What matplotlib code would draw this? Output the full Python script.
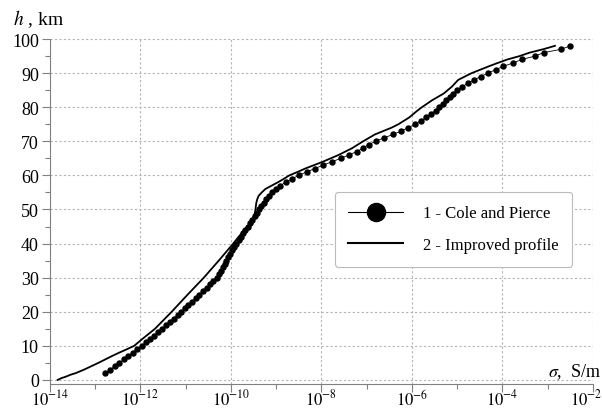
import numpy as np
import matplotlib
matplotlib.use('Agg')
from matplotlib import pyplot as plt
from matplotlib.ticker import FixedLocator, FixedFormatter, MultipleLocator, NullFormatter
from matplotlib.transforms import ScaledTranslation
from matplotlib.lines import Line2D

# Cole and Pierce profile: height (km) and log10 of conductivity (S/m)
cpHeights = [2, 3, 4, 5, 6, 7, 8, 9, 10,
             11, 12, 13, 14, 15, 16, 17, 18, 19, 20,
             21, 22, 23, 24, 25, 26, 27, 28, 29, 30,
             31, 32, 33, 34, 35, 36, 37, 38, 39, 40,
             41, 42, 43, 44, 45, 46, 47, 48, 49, 50,
             51, 52, 53, 54, 55, 56, 57, 58, 59, 60,
             61, 62, 63, 64, 65, 66, 67, 68, 69, 70,
             71, 72, 73, 74, 75, 76, 77, 78, 79, 80,
             81, 82, 83, 84, 85, 86, 87, 88, 89, 90,
             91, 92, 93, 94, 95, 96, 97, 98]
cpLogSigma = [-12.78, -12.67, -12.57, -12.47, -12.37, -12.27, -12.17, -12.07, -11.97,
              -11.88, -11.79, -11.70, -11.61, -11.52, -11.44, -11.35, -11.27, -11.18, -11.10,
              -11.02, -10.94, -10.86, -10.78, -10.70, -10.62, -10.54, -10.47, -10.39, -10.32,
              -10.27, -10.22, -10.18, -10.14, -10.10, -10.06, -10.02, -9.98, -9.93, -9.88,
              -9.83, -9.78, -9.73, -9.68, -9.63, -9.58, -9.53, -9.48, -9.43, -9.38,
              -9.33, -9.28, -9.22, -9.16, -9.09, -9.01, -8.91, -8.79, -8.65, -8.50,
              -8.33, -8.15, -7.96, -7.77, -7.57, -7.39, -7.22, -7.08, -6.96, -6.80,
              -6.62, -6.42, -6.24, -6.08, -5.93, -5.80, -5.69, -5.58, -5.48, -5.40,
              -5.32, -5.25, -5.17, -5.09, -5.00, -4.89, -4.77, -4.63, -4.48, -4.32,
              -4.15, -3.98, -3.76, -3.57, -3.28, -3.09, -2.70, -2.50]

# Improved profile
impHeights = [0, 0.5, 1, 1.5, 2, 3, 4, 5, 6, 7, 8, 9, 10, 12, 15, 20, 25, 30, 35,
              40, 42, 44, 45, 46, 47, 48, 49, 50, 51, 52, 53, 54, 55, 56, 57, 58,
              59, 60, 61, 62, 64, 66, 68, 70, 72, 74, 75, 76, 77, 78, 79, 80, 82,
              84, 86, 88, 90, 92, 93, 94, 95, 96, 97, 98]
impLogSigma = [-13.83, -13.75, -13.64, -13.55, -13.43, -13.25, -13.09, -12.93, -12.78,
               -12.63, -12.47, -12.30, -12.14, -11.96, -11.68, -11.31, -10.96, -10.60,
               -10.27, -9.95, -9.83, -9.70, -9.63, -9.57, -9.53, -9.50, -9.47, -9.46,
               -9.45, -9.44, -9.42, -9.39, -9.32, -9.24, -9.10, -8.96, -8.83, -8.71,
               -8.53, -8.36, -7.97, -7.62, -7.32, -7.08, -6.82, -6.45, -6.30, -6.18,
               -6.06, -5.97, -5.88, -5.78, -5.56, -5.30, -5.12, -4.98, -4.68, -4.30,
               -4.10, -3.89, -3.62, -3.40, -3.10, -2.84]

xTickExponents = [-14, -12, -10, -8, -6, -4, -2]
legendLabels = ['1 - Cole and Pierce', '2 - Improved profile']

plt.rcParams['font.family'] = ['Liberation Serif', 'DejaVu Serif']
plt.rcParams['mathtext.fontset'] = 'stix'

W, H = 602, 410
fig = plt.figure(figsize=(W / 100, H / 100), dpi=100)
ax = fig.add_axes([50 / W, 25 / H, 543 / W, 345 / H])
ax.set_xscale('log')

ax.plot(10 ** np.array(impLogSigma), impHeights, color='black', lw=1.3)
ax.plot(10 ** np.array(cpLogSigma), cpHeights, color='black', lw=0.6,
        marker='o', ms=3.6, mec='black', mfc='black')

ax.set_xlim(1e-14, 1e-2)
ax.set_ylim(-1.2, 100)

# ticks: labelled even decades, unlabelled minor ticks on odd decades
ax.xaxis.set_major_locator(FixedLocator([10.0 ** e for e in xTickExponents]))
ax.xaxis.set_major_formatter(FixedFormatter([r'$10^{%d}$' % e for e in xTickExponents]))
ax.xaxis.set_minor_locator(FixedLocator([10.0 ** (e + 1) for e in xTickExponents[:-1]]))
ax.xaxis.set_minor_formatter(NullFormatter())
ax.yaxis.set_major_locator(MultipleLocator(10))
ax.yaxis.set_minor_locator(MultipleLocator(5))

ax.tick_params(which='major', length=6, width=0.8, color='#808080', labelsize=13, pad=2)
# mathtext labels carry extra descent, pull them up so they fit the canvas
ax.tick_params(axis='x', which='major', labelsize=12, pad=-2.5)
ax.tick_params(which='minor', length=3.5, width=0.8, color='#808080')
for side in ('top', 'right'):
  ax.spines[side].set_visible(False)
for side in ('left', 'bottom'):
  ax.spines[side].set_color('#808080')
  ax.spines[side].set_linewidth(0.8)

# nudge the last x label left so it stays on the canvas
lastLabel = ax.xaxis.get_major_ticks()[len(xTickExponents) - 1].label1
lastLabel.set_transform(lastLabel.get_transform() + ScaledTranslation(-7 / 100, 0, fig.dpi_scale_trans))

ax.grid(True, which='major', color='#b4b4b4', linestyle=(0, (2, 2)), linewidth=0.8)

fig.text(13 / W, 1 - 25 / H, r'$h$ , km', fontsize=14, ha='left', va='baseline')
fig.text(601 / W, 1 - 377 / H, r'$\sigma$,  S/m', fontsize=13, ha='right', va='baseline')

handles = [Line2D([], [], color='black', lw=0.8, marker='o', ms=13),
           Line2D([], [], color='black', lw=1.5)]
leg = ax.legend(handles, legendLabels, loc='upper left',
                bbox_to_anchor=(335 / W, 1 - 193 / H), bbox_transform=fig.transFigure,
                borderaxespad=0, fontsize=12, handlelength=3.3, handletextpad=1.2,
                borderpad=0.8, labelspacing=0.95, fancybox=True, framealpha=1,
                edgecolor='#bbbbbb')
leg.get_frame().set_linewidth(0.8)

fig.savefig('out.png', dpi=100)
